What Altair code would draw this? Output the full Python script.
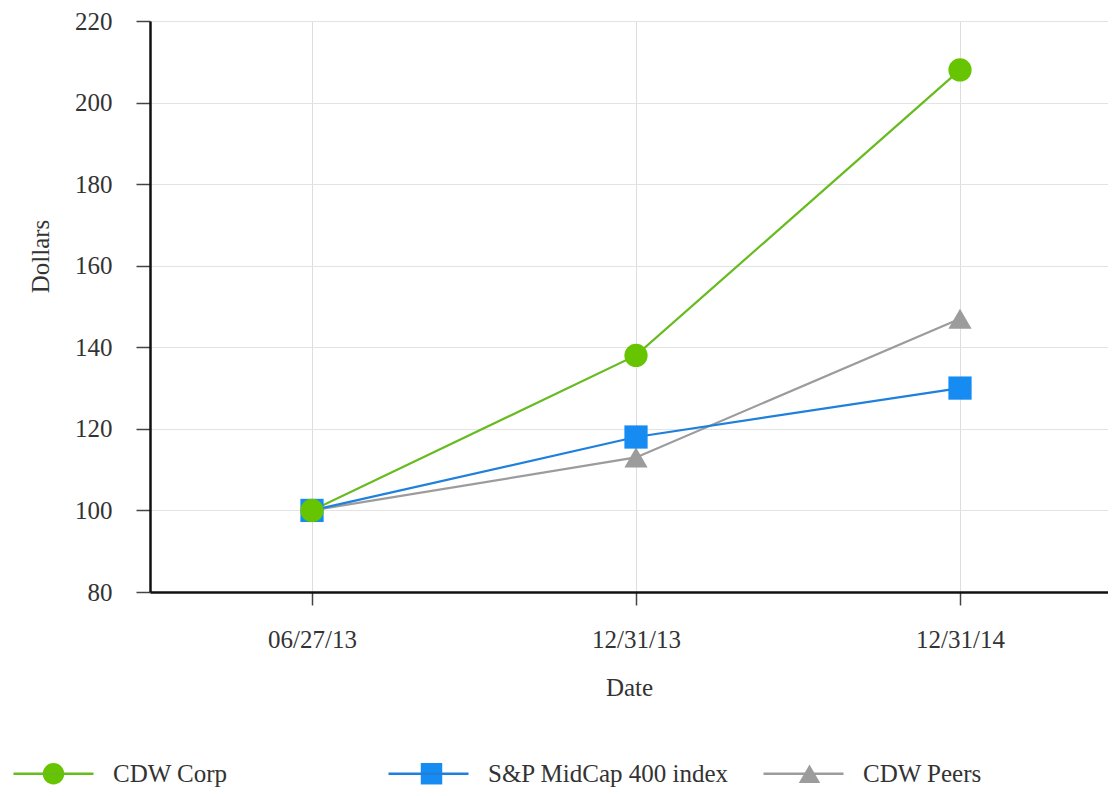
import altair as alt
import pandas as pd

# ---- data ----
dates = ["06/27/13", "12/31/13", "12/31/14"]
series = ["CDW Corp", "S&P MidCap 400 index", "CDW Peers"]
cdw_corp = [100, 138, 208]
sp_midcap = [100, 118, 130]
cdw_peers = [100, 113, 147]
y_ticks = [80, 100, 120, 140, 160, 180, 200, 220]

marker_colors = ["#66c400", "#168cf2", "#9c9c9c"]
line_colors = ["#66bb1e", "#1f80dc", "#9c9c9c"]
shapes = ["circle", "square", "triangle-up"]

# drawing order: peers, S&P, CDW Corp (CDW on top)
rows = []
for name, vals in [("CDW Peers", cdw_peers), ("S&P MidCap 400 index", sp_midcap), ("CDW Corp", cdw_corp)]:
    for d, v in zip(dates, vals):
        rows.append({"Date": d, "Dollars": v, "Series": name})
df = pd.DataFrame(rows)

FONT = "Liberation Serif"
TXT = "#333333"
FS = 25

x_enc = alt.X(
    "Date:N",
    sort=dates,
    scale=alt.Scale(type="point", padding=0.4784, align=0.5226),
    axis=alt.Axis(
        title="Date",
        labelAngle=0,
        domainColor="#111111",
        domainWidth=2.5,
        tickColor="#444444",
        tickWidth=1.5,
        tickSize=13,
        labelPadding=22,
        labelFont=FONT,
        labelFontSize=FS,
        labelColor=TXT,
        titleFont=FONT,
        titleFontSize=FS,
        titleFontWeight="normal",
        titleColor=TXT,
        titlePadding=23,
        grid=True,
        gridColor="#dddddd",
        gridWidth=1,
    ),
)

y_enc = alt.Y(
    "Dollars:Q",
    scale=alt.Scale(domain=[80, 220], nice=False, zero=False),
    axis=alt.Axis(
        title="Dollars",
        values=y_ticks,
        domainColor="#111111",
        domainWidth=2.5,
        tickColor="#444444",
        tickWidth=1.5,
        tickSize=14,
        labelPadding=24,
        labelFont=FONT,
        labelFontSize=FS,
        labelColor=TXT,
        titleFont=FONT,
        titleFontSize=FS,
        titleFontWeight="normal",
        titleColor=TXT,
        titleAngle=270,
        titleX=-110,
        titleY=235,
        titleAlign="center",
        titleBaseline="middle",
        grid=True,
        gridColor="#e3e3e3",
        gridWidth=1,
    ),
)

line_legend = alt.Legend(
    title=None,
    orient="none",
    legendX=-138,
    legendY=711,
    direction="horizontal",
    columns=3,
    gridAlign="all",
    symbolType="stroke",
    symbolSize=6400,
    symbolStrokeWidth=2.5,
    labelOffset=18,
    columnPadding=29,
    labelLimit=500,
    labelFont=FONT,
    labelFontSize=FS,
    labelColor=TXT,
)

# marker-only legend laid over the line legend (no labels of its own)
point_legend = alt.Legend(
    title=None,
    orient="none",
    legendX=-109,
    legendY=740,
    direction="horizontal",
    columns=3,
    gridAlign="all",
    symbolSize=460,
    symbolStrokeWidth=0,
    labelOffset=0,
    labelExpr="''",
    columnPadding=353,
    labelFontSize=FS,
)

lines = alt.Chart(df).mark_line(strokeWidth=2.2).encode(
    x=x_enc,
    y=y_enc,
    stroke=alt.Stroke(
        "Series:N",
        scale=alt.Scale(domain=series, range=line_colors),
        legend=line_legend,
    ),
)

points = alt.Chart(df).mark_point(filled=True, opacity=1, size=540).encode(
    x=x_enc,
    y=y_enc,
    fill=alt.Fill(
        "Series:N",
        scale=alt.Scale(domain=series, range=marker_colors),
        legend=point_legend,
    ),
    shape=alt.Shape(
        "Series:N",
        scale=alt.Scale(domain=series, range=shapes),
        legend=point_legend,
    ),
)

chart = (
    alt.layer(lines, points)
    .resolve_legend(stroke="independent")
    .properties(
        width=958,
        height=571,
        autosize="none",
        padding={"left": 142, "top": 13, "right": 0, "bottom": 202},
        background="white",
    )
    .configure_view(stroke=None)
)

chart.save("out.html", embed_options={"renderer": "svg", "actions": False})
